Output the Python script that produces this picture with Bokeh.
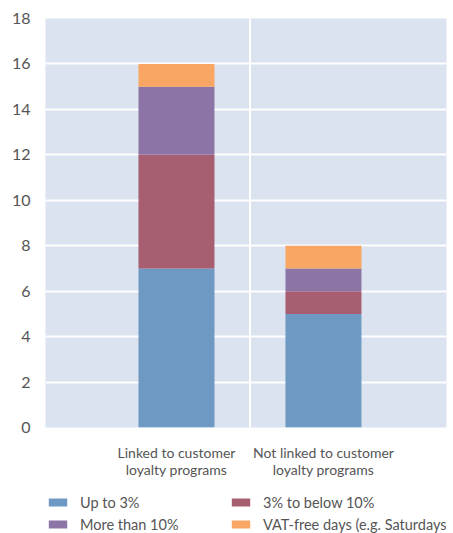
from bokeh.plotting import figure
from bokeh.models import Range1d, Legend, LegendItem, FixedTicker, Span
from bokeh.layouts import column
from bokeh.embed import file_html
from bokeh.resources import INLINE

categories = ["Linked to customer\nloyalty programs", "Not linked to customer\nloyalty programs"]
series_names = ["Up to 3%", "3% to below 10%", "More than 10%", "VAT-free days (e.g. Saturdays)"]
up_to_3 = [7, 5]
from_3_to_10 = [5, 1]
more_than_10 = [3, 1]
vat_free = [1, 1]
y_ticks = [0, 2, 4, 6, 8, 10, 12, 14, 16, 18]

colors = ["#6E99C3", "#A65E70", "#8C75A6", "#F9A563"]
FONT = "Lato"
TXT = "#555555"

xs = [1, 2]
data = dict(x=xs, s0=up_to_3, s1=from_3_to_10, s2=more_than_10, s3=vat_free)

p = figure(width=453, height=493, output_backend="svg", toolbar_location=None,
           x_range=Range1d(0.109, 2.837), y_range=Range1d(0, 18),
           min_border_left=45, min_border_right=7, min_border_top=18, min_border_bottom=66)
p.background_fill_color = "#DAE3EF"
p.border_fill_color = "white"
p.outline_line_color = None

renderers = p.vbar_stack(["s0", "s1", "s2", "s3"], x="x", width=0.517, color=colors,
                         line_color=None, source=data)

p.xgrid.visible = False
p.ygrid.grid_line_color = "white"
p.ygrid.grid_line_width = 2
p.ygrid.level = "underlay"
p.add_layout(Span(location=1.5, dimension="height", line_color="white", line_width=2, level="underlay"))

p.yaxis.ticker = FixedTicker(ticks=y_ticks)
p.yaxis.axis_line_color = None
p.yaxis.major_tick_line_color = None
p.yaxis.minor_tick_line_color = None
p.yaxis.major_label_text_font = FONT
p.yaxis.major_label_text_font_size = "16px"
p.yaxis.major_label_text_color = TXT
p.yaxis.major_label_standoff = 9

p.xaxis.ticker = FixedTicker(ticks=xs)
p.xaxis.major_label_overrides = {x: c for x, c in zip(xs, categories)}
p.xaxis.axis_line_color = None
p.xaxis.major_tick_line_color = None
p.xaxis.minor_tick_line_color = None
p.xaxis.major_label_text_font = FONT
p.xaxis.major_label_text_font_size = "14px"
p.xaxis.major_label_text_color = TXT
p.xaxis.major_label_text_line_height = 1.0
p.xaxis.major_label_standoff = 10

# legend panel below the chart (its renderers sit outside its visible range)
lg = figure(width=453, height=40, output_backend="svg", toolbar_location=None,
            x_axis_type=None, y_axis_type=None,
            x_range=Range1d(0.109, 2.837), y_range=Range1d(100, 101),
            min_border_left=45, min_border_right=7, min_border_top=0, min_border_bottom=0)
lg.outline_line_color = None
lg.background_fill_color = "white"
lg.border_fill_color = "white"
lr = lg.vbar_stack(["s0", "s1", "s2", "s3"], x="x", width=0.5, color=colors,
                   line_color=None, source=dict(data))

items = [LegendItem(label=n, renderers=[r]) for n, r in zip(series_names, lr)]
legend = Legend(items=items, orientation="horizontal", ncols=2, location=(1, 0),
                label_text_font=FONT, label_text_font_size="14.5px", label_text_color=TXT,
                glyph_width=23, glyph_height=10, label_standoff=11, label_width=145,
                label_height=18, spacing=4, padding=0, margin=0, border_line_color=None,
                background_fill_alpha=0)
lg.add_layout(legend, "center")

layout = column(p, lg, spacing=0)
open("out.html", "w").write(file_html(layout, INLINE))
